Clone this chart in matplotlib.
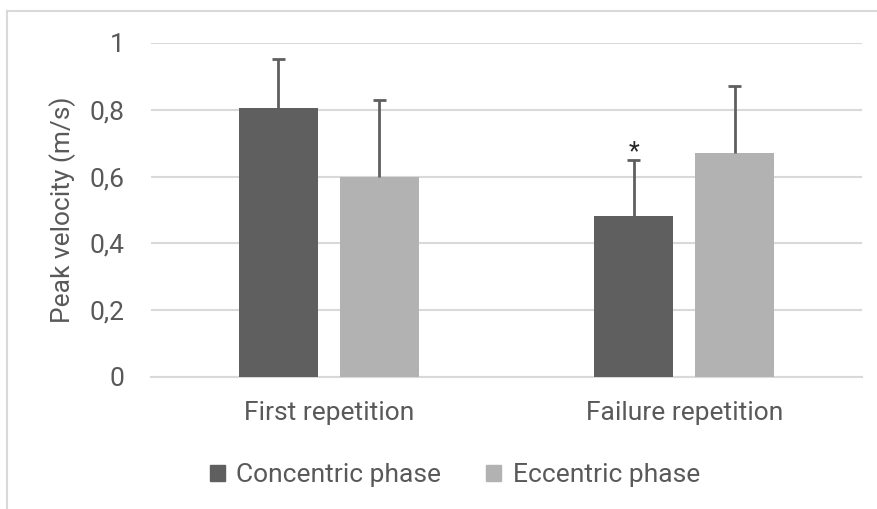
import matplotlib
matplotlib.use("Agg")
import matplotlib.pyplot as plt
from matplotlib.lines import Line2D
from matplotlib.patches import Patch
import numpy as np

plt.rcParams['font.family'] = ['Roboto', 'DejaVu Sans']

categories = ["First repetition", "Failure repetition"]
series_names = ["Concentric phase", "Eccentric phase"]
concentric = [0.805, 0.482]
concentric_sd = [0.147, 0.168]
eccentric = [0.600, 0.671]
eccentric_sd = [0.229, 0.200]
yticks = [0, 0.2, 0.4, 0.6, 0.8, 1.0]
ytick_labels = ["0", "0,2", "0,4", "0,6", "0,8", "1"]

dark = "#5f5f5f"
light = "#b2b2b2"
text_col = "#595959"
grid_col = "#d9d9d9"

W, H = 878, 509
fig = plt.figure(figsize=(W / 100, H / 100), dpi=100)
ax = fig.add_axes([151 / W, 1 - 377 / H, (862 - 151) / W, (377 - 43) / H])

x = np.arange(len(categories))
bw = 0.222
off = (bw + 0.062) / 2
cap = 0.018
for xs, vals, sds, col in [(x - off, concentric, concentric_sd, dark),
                           (x + off, eccentric, eccentric_sd, light)]:
    ax.bar(xs, vals, bw, color=col, zorder=3)
    tops = np.array(vals) + np.array(sds)
    ax.vlines(xs, vals, tops, color=dark, lw=2, zorder=4)
    ax.hlines(tops, xs - cap, xs + cap, color=dark, lw=2, zorder=4)

# significance marker
ax.text(x[1] - off, concentric[1] + concentric_sd[1] - 0.012, "*", ha='center',
        va='bottom', fontsize=18, color='#262626')

ax.set_xlim(-0.5, 1.5)
ax.set_ylim(0, 1)
ax.set_yticks(yticks)
ax.set_yticklabels(ytick_labels)
ax.set_xticks(x)
ax.set_xticklabels(categories)
ax.tick_params(axis='both', length=0, colors=text_col, labelsize=19)
ax.tick_params(axis='y', pad=19)
ax.tick_params(axis='x', pad=17)
for s in ['top', 'right', 'left']:
    ax.spines[s].set_visible(False)
ax.spines['bottom'].set_color(grid_col)
ax.spines['bottom'].set_linewidth(1.5)
ax.yaxis.grid(True, color=grid_col, linewidth=1.5, zorder=0)
ax.set_axisbelow(True)
ax.set_ylabel("Peak velocity (m/s)", color=text_col, fontsize=19)
ax.yaxis.set_label_coords((76 - 151) / 711, (377 - 210) / 334)

handles = [Patch(color=dark), Patch(color=light)]
fig.legend(handles, series_names, loc='center', bbox_to_anchor=(455 / W, 1 - 475 / H),
           ncol=2, frameon=False, fontsize=19, labelcolor=text_col,
           handlelength=0.55, handleheight=0.55, handletextpad=0.45, columnspacing=1.7)

# chart border (cropped)
fig.add_artist(Line2D([7.5 / W, 7.5 / W], [1 - 11 / H, 0], color='#d9d9d9', lw=1.5))
fig.add_artist(Line2D([7.5 / W, 1], [1 - 11 / H, 1 - 11 / H], color='#d9d9d9', lw=1.5))

fig.savefig("out.png", dpi=100, facecolor='white')
